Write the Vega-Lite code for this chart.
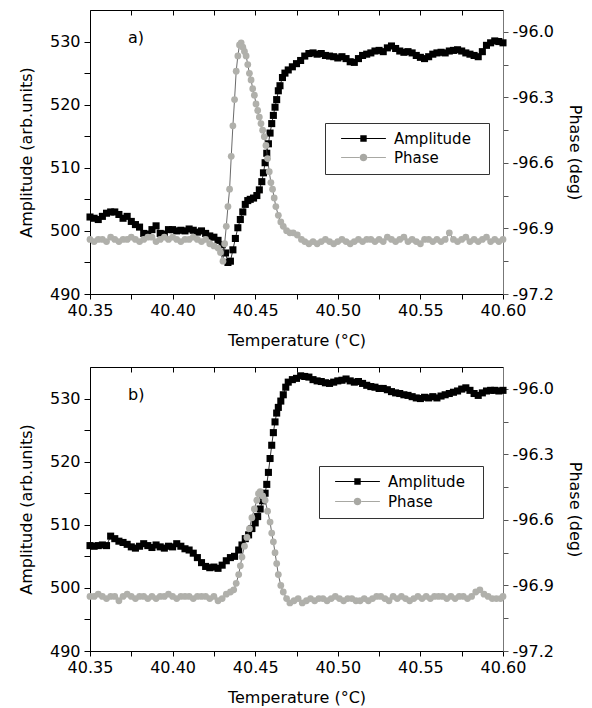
{
  "$schema": "https://vega.github.io/schema/vega-lite/v6.json",
  "padding": {"left": 17, "top": 9, "right": 5, "bottom": 5},
  "spacing": 17,
  "config": {
    "font": "DejaVu Sans",
    "view": {"stroke": "black", "strokeWidth": 1},
    "axis": {"grid": false, "domainColor": "black", "tickColor": "black", "labelColor": "black", "titleColor": "black", "labelFont": "DejaVu Sans", "titleFont": "DejaVu Sans", "labelFontSize": 16, "titleFontSize": 16, "titleFontWeight": "normal", "tickSize": 5, "domainWidth": 1, "tickWidth": 1},
    "legend": {"labelFont": "DejaVu Sans", "labelFontSize": 15, "labelColor": "black"}
  },
  "resolve": {"scale": {"color": "independent", "shape": "independent"}},
  "datasets": {
    "aA": [
      {"t":40.3500,"v":502.2},{"t":40.3525,"v":502.0},{"t":40.3550,"v":501.8},{"t":40.3575,"v":502.3},{"t":40.3600,"v":502.8},{"t":40.3625,"v":503.0},{"t":40.3650,"v":503.0},{"t":40.3675,"v":502.6},{"t":40.3700,"v":502.0},{"t":40.3725,"v":502.3},{"t":40.3750,"v":501.5},{"t":40.3775,"v":501.0},{"t":40.3800,"v":500.6},{"t":40.3825,"v":499.6},{"t":40.3850,"v":499.5},{"t":40.3875,"v":500.2},{"t":40.3900,"v":500.8},{"t":40.3925,"v":499.6},{"t":40.3950,"v":499.5},{"t":40.3975,"v":500.2},{"t":40.4000,"v":500.2},{"t":40.4025,"v":500.0},{"t":40.4050,"v":500.1},{"t":40.4075,"v":500.0},{"t":40.4100,"v":500.3},{"t":40.4125,"v":500.1},{"t":40.4150,"v":499.8},{"t":40.4175,"v":500.0},{"t":40.4200,"v":499.6},{"t":40.4225,"v":499.2},{"t":40.4250,"v":499.0},{"t":40.4275,"v":498.5},{"t":40.4300,"v":497.8},{"t":40.4320,"v":496.5},{"t":40.4335,"v":495.0},{"t":40.4350,"v":495.2},{"t":40.4365,"v":497.0},{"t":40.4380,"v":498.8},{"t":40.4395,"v":500.5},{"t":40.4410,"v":501.8},{"t":40.4425,"v":503.0},{"t":40.4440,"v":504.2},{"t":40.4455,"v":504.8},{"t":40.4470,"v":505.0},{"t":40.4490,"v":505.2},{"t":40.4510,"v":505.6},{"t":40.4525,"v":506.5},{"t":40.4540,"v":507.8},{"t":40.4550,"v":509.2},{"t":40.4560,"v":510.8},{"t":40.4570,"v":512.3},{"t":40.4580,"v":513.8},{"t":40.4590,"v":515.5},{"t":40.4600,"v":517.0},{"t":40.4610,"v":518.3},{"t":40.4620,"v":519.6},{"t":40.4630,"v":520.8},{"t":40.4640,"v":522.2},{"t":40.4650,"v":523.0},{"t":40.4665,"v":524.3},{"t":40.4680,"v":525.0},{"t":40.4700,"v":525.5},{"t":40.4725,"v":526.0},{"t":40.4750,"v":526.5},{"t":40.4775,"v":527.0},{"t":40.4800,"v":527.7},{"t":40.4825,"v":528.1},{"t":40.4850,"v":528.2},{"t":40.4875,"v":528.0},{"t":40.4900,"v":528.1},{"t":40.4925,"v":527.8},{"t":40.4950,"v":527.7},{"t":40.4975,"v":527.6},{"t":40.5000,"v":527.4},{"t":40.5025,"v":527.6},{"t":40.5050,"v":527.3},{"t":40.5075,"v":526.8},{"t":40.5100,"v":526.7},{"t":40.5125,"v":527.3},{"t":40.5150,"v":527.8},{"t":40.5175,"v":528.0},{"t":40.5200,"v":528.2},{"t":40.5225,"v":528.5},{"t":40.5250,"v":528.6},{"t":40.5275,"v":528.4},{"t":40.5300,"v":529.0},{"t":40.5325,"v":529.3},{"t":40.5350,"v":528.9},{"t":40.5375,"v":528.5},{"t":40.5400,"v":528.3},{"t":40.5425,"v":528.4},{"t":40.5450,"v":528.2},{"t":40.5475,"v":527.8},{"t":40.5500,"v":527.5},{"t":40.5525,"v":527.3},{"t":40.5550,"v":527.6},{"t":40.5575,"v":528.0},{"t":40.5600,"v":528.2},{"t":40.5625,"v":528.3},{"t":40.5650,"v":528.2},{"t":40.5675,"v":528.5},{"t":40.5700,"v":528.6},{"t":40.5725,"v":528.7},{"t":40.5750,"v":528.5},{"t":40.5775,"v":528.2},{"t":40.5800,"v":528.0},{"t":40.5825,"v":527.8},{"t":40.5850,"v":527.6},{"t":40.5875,"v":528.4},{"t":40.5900,"v":529.4},{"t":40.5925,"v":529.8},{"t":40.5950,"v":530.1},{"t":40.5975,"v":530.0},{"t":40.6000,"v":529.8}
    ],
    "aP": [
      {"t":40.3500,"v":-96.95},{"t":40.3525,"v":-96.96},{"t":40.3550,"v":-96.95},{"t":40.3575,"v":-96.95},{"t":40.3600,"v":-96.96},{"t":40.3625,"v":-96.94},{"t":40.3650,"v":-96.95},{"t":40.3675,"v":-96.96},{"t":40.3700,"v":-96.95},{"t":40.3725,"v":-96.95},{"t":40.3750,"v":-96.94},{"t":40.3775,"v":-96.95},{"t":40.3800,"v":-96.96},{"t":40.3825,"v":-96.95},{"t":40.3850,"v":-96.94},{"t":40.3875,"v":-96.94},{"t":40.3900,"v":-96.96},{"t":40.3925,"v":-96.95},{"t":40.3950,"v":-96.94},{"t":40.3975,"v":-96.95},{"t":40.4000,"v":-96.94},{"t":40.4025,"v":-96.95},{"t":40.4050,"v":-96.96},{"t":40.4075,"v":-96.95},{"t":40.4100,"v":-96.95},{"t":40.4125,"v":-96.94},{"t":40.4150,"v":-96.95},{"t":40.4175,"v":-96.96},{"t":40.4200,"v":-96.95},{"t":40.4225,"v":-96.97},{"t":40.4250,"v":-96.98},{"t":40.4275,"v":-96.99},{"t":40.4290,"v":-97.01},{"t":40.4305,"v":-97.05},{"t":40.4315,"v":-96.97},{"t":40.4325,"v":-96.89},{"t":40.4335,"v":-96.80},{"t":40.4345,"v":-96.72},{"t":40.4355,"v":-96.57},{"t":40.4365,"v":-96.43},{"t":40.4375,"v":-96.31},{"t":40.4385,"v":-96.18},{"t":40.4395,"v":-96.11},{"t":40.4405,"v":-96.06},{"t":40.4415,"v":-96.05},{"t":40.4425,"v":-96.07},{"t":40.4435,"v":-96.09},{"t":40.4445,"v":-96.11},{"t":40.4455,"v":-96.15},{"t":40.4465,"v":-96.19},{"t":40.4475,"v":-96.22},{"t":40.4485,"v":-96.26},{"t":40.4495,"v":-96.29},{"t":40.4505,"v":-96.33},{"t":40.4515,"v":-96.36},{"t":40.4525,"v":-96.39},{"t":40.4535,"v":-96.42},{"t":40.4545,"v":-96.45},{"t":40.4555,"v":-96.48},{"t":40.4565,"v":-96.52},{"t":40.4575,"v":-96.58},{"t":40.4585,"v":-96.64},{"t":40.4595,"v":-96.69},{"t":40.4605,"v":-96.72},{"t":40.4615,"v":-96.76},{"t":40.4625,"v":-96.80},{"t":40.4640,"v":-96.84},{"t":40.4655,"v":-96.87},{"t":40.4670,"v":-96.89},{"t":40.4690,"v":-96.91},{"t":40.4710,"v":-96.92},{"t":40.4730,"v":-96.92},{"t":40.4755,"v":-96.93},{"t":40.4780,"v":-96.95},{"t":40.4800,"v":-96.96},{"t":40.4825,"v":-96.97},{"t":40.4850,"v":-96.96},{"t":40.4875,"v":-96.97},{"t":40.4900,"v":-96.96},{"t":40.4925,"v":-96.95},{"t":40.4950,"v":-96.96},{"t":40.4975,"v":-96.97},{"t":40.5000,"v":-96.96},{"t":40.5025,"v":-96.95},{"t":40.5050,"v":-96.96},{"t":40.5075,"v":-96.97},{"t":40.5100,"v":-96.96},{"t":40.5125,"v":-96.95},{"t":40.5150,"v":-96.96},{"t":40.5175,"v":-96.95},{"t":40.5200,"v":-96.95},{"t":40.5225,"v":-96.96},{"t":40.5250,"v":-96.95},{"t":40.5275,"v":-96.96},{"t":40.5300,"v":-96.94},{"t":40.5325,"v":-96.95},{"t":40.5350,"v":-96.96},{"t":40.5375,"v":-96.95},{"t":40.5400,"v":-96.94},{"t":40.5425,"v":-96.96},{"t":40.5450,"v":-96.95},{"t":40.5475,"v":-96.96},{"t":40.5500,"v":-96.97},{"t":40.5525,"v":-96.95},{"t":40.5550,"v":-96.95},{"t":40.5575,"v":-96.96},{"t":40.5600,"v":-96.95},{"t":40.5625,"v":-96.96},{"t":40.5650,"v":-96.95},{"t":40.5675,"v":-96.92},{"t":40.5700,"v":-96.95},{"t":40.5725,"v":-96.96},{"t":40.5750,"v":-96.95},{"t":40.5775,"v":-96.94},{"t":40.5800,"v":-96.96},{"t":40.5825,"v":-96.95},{"t":40.5850,"v":-96.96},{"t":40.5875,"v":-96.95},{"t":40.5900,"v":-96.94},{"t":40.5925,"v":-96.96},{"t":40.5950,"v":-96.95},{"t":40.5975,"v":-96.96},{"t":40.6000,"v":-96.95}
    ],
    "bA": [
      {"t":40.3500,"v":506.7},{"t":40.3525,"v":506.6},{"t":40.3550,"v":506.7},{"t":40.3575,"v":506.8},{"t":40.3600,"v":506.7},{"t":40.3625,"v":508.2},{"t":40.3650,"v":507.8},{"t":40.3675,"v":507.4},{"t":40.3700,"v":507.2},{"t":40.3725,"v":506.9},{"t":40.3750,"v":506.5},{"t":40.3775,"v":506.3},{"t":40.3800,"v":506.6},{"t":40.3825,"v":507.0},{"t":40.3850,"v":506.7},{"t":40.3875,"v":506.4},{"t":40.3900,"v":506.8},{"t":40.3925,"v":506.5},{"t":40.3950,"v":506.3},{"t":40.3975,"v":506.6},{"t":40.4000,"v":506.5},{"t":40.4025,"v":507.0},{"t":40.4050,"v":506.6},{"t":40.4075,"v":506.2},{"t":40.4100,"v":506.0},{"t":40.4125,"v":505.5},{"t":40.4150,"v":504.8},{"t":40.4175,"v":504.0},{"t":40.4200,"v":503.4},{"t":40.4225,"v":503.2},{"t":40.4250,"v":503.3},{"t":40.4275,"v":503.1},{"t":40.4300,"v":503.6},{"t":40.4325,"v":504.3},{"t":40.4350,"v":504.8},{"t":40.4375,"v":505.0},{"t":40.4400,"v":506.0},{"t":40.4420,"v":506.8},{"t":40.4440,"v":507.8},{"t":40.4460,"v":508.4},{"t":40.4480,"v":509.4},{"t":40.4500,"v":510.3},{"t":40.4515,"v":511.3},{"t":40.4530,"v":512.5},{"t":40.4545,"v":513.8},{"t":40.4560,"v":515.0},{"t":40.4570,"v":516.4},{"t":40.4580,"v":518.3},{"t":40.4590,"v":520.5},{"t":40.4600,"v":522.6},{"t":40.4610,"v":524.6},{"t":40.4620,"v":526.3},{"t":40.4630,"v":527.7},{"t":40.4640,"v":528.6},{"t":40.4655,"v":529.6},{"t":40.4670,"v":530.6},{"t":40.4685,"v":531.8},{"t":40.4700,"v":532.6},{"t":40.4725,"v":533.0},{"t":40.4750,"v":533.2},{"t":40.4775,"v":533.6},{"t":40.4800,"v":533.5},{"t":40.4825,"v":533.4},{"t":40.4850,"v":533.0},{"t":40.4875,"v":532.8},{"t":40.4900,"v":532.7},{"t":40.4925,"v":532.5},{"t":40.4950,"v":532.4},{"t":40.4975,"v":532.6},{"t":40.5000,"v":532.8},{"t":40.5025,"v":532.9},{"t":40.5050,"v":533.1},{"t":40.5075,"v":532.8},{"t":40.5100,"v":532.6},{"t":40.5125,"v":532.7},{"t":40.5150,"v":532.4},{"t":40.5175,"v":532.1},{"t":40.5200,"v":531.9},{"t":40.5225,"v":531.8},{"t":40.5250,"v":531.6},{"t":40.5275,"v":531.6},{"t":40.5300,"v":531.4},{"t":40.5325,"v":531.1},{"t":40.5350,"v":530.9},{"t":40.5375,"v":530.8},{"t":40.5400,"v":530.6},{"t":40.5425,"v":530.5},{"t":40.5450,"v":530.3},{"t":40.5475,"v":530.1},{"t":40.5500,"v":530.0},{"t":40.5525,"v":530.2},{"t":40.5550,"v":530.1},{"t":40.5575,"v":530.3},{"t":40.5600,"v":530.1},{"t":40.5625,"v":530.4},{"t":40.5650,"v":530.6},{"t":40.5675,"v":530.8},{"t":40.5700,"v":531.0},{"t":40.5725,"v":531.2},{"t":40.5750,"v":531.5},{"t":40.5775,"v":531.7},{"t":40.5800,"v":531.3},{"t":40.5825,"v":530.8},{"t":40.5850,"v":530.5},{"t":40.5875,"v":530.9},{"t":40.5900,"v":531.2},{"t":40.5925,"v":531.3},{"t":40.5950,"v":531.3},{"t":40.5975,"v":531.2},{"t":40.6000,"v":531.3}
    ],
    "bP": [
      {"t":40.3500,"v":-96.95},{"t":40.3525,"v":-96.95},{"t":40.3550,"v":-96.94},{"t":40.3575,"v":-96.95},{"t":40.3600,"v":-96.96},{"t":40.3625,"v":-96.95},{"t":40.3650,"v":-96.95},{"t":40.3675,"v":-96.97},{"t":40.3700,"v":-96.95},{"t":40.3725,"v":-96.94},{"t":40.3750,"v":-96.95},{"t":40.3775,"v":-96.96},{"t":40.3800,"v":-96.95},{"t":40.3825,"v":-96.95},{"t":40.3850,"v":-96.96},{"t":40.3875,"v":-96.95},{"t":40.3900,"v":-96.96},{"t":40.3925,"v":-96.95},{"t":40.3950,"v":-96.95},{"t":40.3975,"v":-96.94},{"t":40.4000,"v":-96.95},{"t":40.4025,"v":-96.96},{"t":40.4050,"v":-96.95},{"t":40.4075,"v":-96.95},{"t":40.4100,"v":-96.95},{"t":40.4125,"v":-96.96},{"t":40.4150,"v":-96.95},{"t":40.4175,"v":-96.95},{"t":40.4200,"v":-96.95},{"t":40.4225,"v":-96.96},{"t":40.4250,"v":-96.95},{"t":40.4275,"v":-96.97},{"t":40.4300,"v":-96.96},{"t":40.4325,"v":-96.94},{"t":40.4350,"v":-96.93},{"t":40.4370,"v":-96.92},{"t":40.4385,"v":-96.89},{"t":40.4400,"v":-96.85},{"t":40.4410,"v":-96.81},{"t":40.4420,"v":-96.77},{"t":40.4435,"v":-96.72},{"t":40.4450,"v":-96.68},{"t":40.4465,"v":-96.64},{"t":40.4480,"v":-96.59},{"t":40.4495,"v":-96.55},{"t":40.4510,"v":-96.51},{"t":40.4520,"v":-96.48},{"t":40.4530,"v":-96.47},{"t":40.4545,"v":-96.49},{"t":40.4560,"v":-96.51},{"t":40.4575,"v":-96.56},{"t":40.4590,"v":-96.61},{"t":40.4600,"v":-96.66},{"t":40.4610,"v":-96.70},{"t":40.4620,"v":-96.75},{"t":40.4630,"v":-96.80},{"t":40.4640,"v":-96.85},{"t":40.4655,"v":-96.90},{"t":40.4670,"v":-96.93},{"t":40.4690,"v":-96.96},{"t":40.4710,"v":-96.98},{"t":40.4735,"v":-96.97},{"t":40.4760,"v":-96.96},{"t":40.4785,"v":-96.98},{"t":40.4810,"v":-96.97},{"t":40.4835,"v":-96.96},{"t":40.4860,"v":-96.97},{"t":40.4885,"v":-96.96},{"t":40.4910,"v":-96.96},{"t":40.4935,"v":-96.97},{"t":40.4960,"v":-96.96},{"t":40.4985,"v":-96.95},{"t":40.5010,"v":-96.96},{"t":40.5035,"v":-96.97},{"t":40.5060,"v":-96.96},{"t":40.5085,"v":-96.96},{"t":40.5110,"v":-96.97},{"t":40.5135,"v":-96.97},{"t":40.5160,"v":-96.96},{"t":40.5185,"v":-96.97},{"t":40.5210,"v":-96.96},{"t":40.5235,"v":-96.95},{"t":40.5260,"v":-96.95},{"t":40.5285,"v":-96.96},{"t":40.5310,"v":-96.97},{"t":40.5335,"v":-96.95},{"t":40.5360,"v":-96.96},{"t":40.5385,"v":-96.95},{"t":40.5410,"v":-96.96},{"t":40.5435,"v":-96.97},{"t":40.5460,"v":-96.96},{"t":40.5485,"v":-96.95},{"t":40.5510,"v":-96.96},{"t":40.5535,"v":-96.95},{"t":40.5560,"v":-96.96},{"t":40.5585,"v":-96.95},{"t":40.5610,"v":-96.95},{"t":40.5635,"v":-96.95},{"t":40.5660,"v":-96.96},{"t":40.5685,"v":-96.95},{"t":40.5710,"v":-96.96},{"t":40.5735,"v":-96.95},{"t":40.5760,"v":-96.95},{"t":40.5785,"v":-96.96},{"t":40.5810,"v":-96.95},{"t":40.5835,"v":-96.93},{"t":40.5860,"v":-96.92},{"t":40.5885,"v":-96.94},{"t":40.5910,"v":-96.95},{"t":40.5935,"v":-96.96},{"t":40.5960,"v":-96.96},{"t":40.5985,"v":-96.96},{"t":40.6000,"v":-96.95}
    ],
    "series": [{"s": "Amplitude"}, {"s": "Phase"}]
  },
  "vconcat": [
    {
      "width": 413, "height": 284,
      "resolve": {"scale": {"y": "independent"}, "axis": {"x": "independent"}},
      "layer": [
        {
          "data": {"name": "aA"},
          "encoding": {
            "x": {"field": "t", "type": "quantitative", "scale": {"domain": [40.35, 40.6], "nice": false, "zero": false},
              "axis": {"orient": "bottom", "title": "Temperature (°C)", "values": [40.35,40.375,40.4,40.425,40.45,40.475,40.5,40.525,40.55,40.575,40.6], "labelExpr": "round(datum.value*1000) % 50 == 0 ? format(datum.value, '.2f') : ''", "labelPadding": 3, "titlePadding": 14, "labelFlush": false, "labelOverlap": false}},
            "y": {"field": "v", "type": "quantitative", "scale": {"domain": [490, 535], "nice": false, "zero": false},
              "axis": {"orient": "left", "title": "Amplitude (arb.units)", "values": [490,495,500,505,510,515,520,525,530], "labelExpr": "datum.value % 10 == 0 ? format(datum.value, 'd') : ''", "tickSize": 6, "labelPadding": 4, "titlePadding": 15}}
          },
          "layer": [
            {"mark": {"type": "line", "color": "black", "strokeWidth": 0.8}, "encoding": {}},
            {"mark": {"type": "point", "shape": "square", "filled": true, "size": 50, "opacity": 1, "color": "black"}, "encoding": {}},
            {"data": {"values": [{"t": 40.373, "v": 530.5, "label": "a)"}]},
              "mark": {"type": "text", "align": "left", "baseline": "middle", "fontSize": 16, "font": "DejaVu Sans", "color": "black"},
              "encoding": {"text": {"field": "label"}}}
          ]
        },
        {
          "data": {"name": "aP"},
          "encoding": {
            "x": {"field": "t", "type": "quantitative", "scale": {"domain": [40.35, 40.6], "nice": false, "zero": false},
              "axis": {"orient": "top", "title": null, "labels": false, "values": [40.375,40.4,40.425,40.45,40.475,40.5,40.525,40.55,40.575], "tickSize": -5, "domain": false}},
            "y": {"field": "v", "type": "quantitative", "scale": {"domain": [-97.2, -95.9], "nice": false, "zero": false},
              "axis": {"orient": "right", "title": "Phase (deg)", "values": [-97.2,-97.05,-96.9,-96.75,-96.6,-96.45,-96.3,-96.15,-96.0], "labelExpr": "abs(round(datum.value*100)) % 30 == 0 ? replace(format(datum.value, '.1f'), '\u2212', '-') : ''", "tickSize": 5, "labelPadding": 4, "titlePadding": 13, "domainColor": "#777", "tickColor": "#555"}}
          },
          "layer": [
            {"mark": {"type": "line", "color": "#444", "strokeWidth": 0.8}, "encoding": {}},
            {"mark": {"type": "point", "shape": "circle", "filled": true, "size": 46, "opacity": 1, "color": "#b0b0ab"}, "encoding": {}}
          ]
        },
        {
          "data": {"name": "series"},
          "transform": [{"filter": "false"}],
          "mark": {"type": "point", "filled": true, "opacity": 1},
          "encoding": {
            "color": {"field": "s", "type": "nominal", "scale": {"domain": ["Amplitude", "Phase"], "range": ["black", "#a8a8a3"]},
              "legend": {"title": " ", "titleOrient": "right", "titlePadding": 10, "orient": "none", "legendX": 235, "legendY": 113, "direction": "vertical", "strokeColor": "#333", "fillColor": "white", "padding": 8, "symbolSize": 64, "rowPadding": 3, "symbolOffset": 23, "labelOffset": 23, "labelFontSize": 15, "symbolOpacity": 1}},
            "shape": {"field": "s", "type": "nominal", "scale": {"domain": ["Amplitude", "Phase"], "range": ["M-5.6,-0.13H-0.8V0.13H-5.6Z M0.8,-0.13H5.6V0.13H0.8Z M-0.8,-0.8H0.8V0.8H-0.8Z", "M-5.6,-0.13H-0.9V0.13H-5.6Z M0.9,-0.13H5.6V0.13H0.9Z M-0.95,0A0.95,0.95 0 1,0 0.95,0A0.95,0.95 0 1,0 -0.95,0Z"]},
              "legend": {"title": " ", "titleOrient": "right", "titlePadding": 10, "orient": "none", "legendX": 235, "legendY": 113, "direction": "vertical", "strokeColor": "#333", "fillColor": "white", "padding": 8, "symbolSize": 64, "rowPadding": 3, "symbolOffset": 23, "labelOffset": 23, "labelFontSize": 15, "symbolOpacity": 1}}
          }
        }
      ]
    },
    {
      "width": 413, "height": 284,
      "resolve": {"scale": {"y": "independent"}, "axis": {"x": "independent"}},
      "layer": [
        {
          "data": {"name": "bA"},
          "encoding": {
            "x": {"field": "t", "type": "quantitative", "scale": {"domain": [40.35, 40.6], "nice": false, "zero": false},
              "axis": {"orient": "bottom", "title": "Temperature (°C)", "values": [40.35,40.375,40.4,40.425,40.45,40.475,40.5,40.525,40.55,40.575,40.6], "labelExpr": "round(datum.value*1000) % 50 == 0 ? format(datum.value, '.2f') : ''", "labelPadding": 3, "titlePadding": 14, "labelFlush": false, "labelOverlap": false}},
            "y": {"field": "v", "type": "quantitative", "scale": {"domain": [490, 535], "nice": false, "zero": false},
              "axis": {"orient": "left", "title": "Amplitude (arb.units)", "values": [490,495,500,505,510,515,520,525,530], "labelExpr": "datum.value % 10 == 0 ? format(datum.value, 'd') : ''", "tickSize": 6, "labelPadding": 4, "titlePadding": 15}}
          },
          "layer": [
            {"mark": {"type": "line", "color": "black", "strokeWidth": 0.8}, "encoding": {}},
            {"mark": {"type": "point", "shape": "square", "filled": true, "size": 50, "opacity": 1, "color": "black"}, "encoding": {}},
            {"data": {"values": [{"t": 40.373, "v": 530.5, "label": "b)"}]},
              "mark": {"type": "text", "align": "left", "baseline": "middle", "fontSize": 16, "font": "DejaVu Sans", "color": "black"},
              "encoding": {"text": {"field": "label"}}}
          ]
        },
        {
          "data": {"name": "bP"},
          "encoding": {
            "x": {"field": "t", "type": "quantitative", "scale": {"domain": [40.35, 40.6], "nice": false, "zero": false},
              "axis": {"orient": "top", "title": null, "labels": false, "values": [40.375,40.4,40.425,40.45,40.475,40.5,40.525,40.55,40.575], "tickSize": -5, "domain": false}},
            "y": {"field": "v", "type": "quantitative", "scale": {"domain": [-97.2, -95.9], "nice": false, "zero": false},
              "axis": {"orient": "right", "title": "Phase (deg)", "values": [-97.2,-97.05,-96.9,-96.75,-96.6,-96.45,-96.3,-96.15,-96.0], "labelExpr": "abs(round(datum.value*100)) % 30 == 0 ? replace(format(datum.value, '.1f'), '\u2212', '-') : ''", "tickSize": 5, "labelPadding": 4, "titlePadding": 13, "domainColor": "#777", "tickColor": "#555"}}
          },
          "layer": [
            {"mark": {"type": "line", "color": "#444", "strokeWidth": 0.8}, "encoding": {}},
            {"mark": {"type": "point", "shape": "circle", "filled": true, "size": 46, "opacity": 1, "color": "#b0b0ab"}, "encoding": {}}
          ]
        },
        {
          "data": {"name": "series"},
          "transform": [{"filter": "false"}],
          "mark": {"type": "point", "filled": true, "opacity": 1},
          "encoding": {
            "color": {"field": "s", "type": "nominal", "scale": {"domain": ["Amplitude", "Phase"], "range": ["black", "#a8a8a3"]},
              "legend": {"title": " ", "titleOrient": "right", "titlePadding": 10, "orient": "none", "legendX": 229, "legendY": 99, "direction": "vertical", "strokeColor": "#333", "fillColor": "white", "padding": 8, "symbolSize": 64, "rowPadding": 4, "symbolOffset": 23, "labelOffset": 23, "labelFontSize": 15, "symbolOpacity": 1}},
            "shape": {"field": "s", "type": "nominal", "scale": {"domain": ["Amplitude", "Phase"], "range": ["M-5.6,-0.13H-0.8V0.13H-5.6Z M0.8,-0.13H5.6V0.13H0.8Z M-0.8,-0.8H0.8V0.8H-0.8Z", "M-5.6,-0.13H-0.9V0.13H-5.6Z M0.9,-0.13H5.6V0.13H0.9Z M-0.95,0A0.95,0.95 0 1,0 0.95,0A0.95,0.95 0 1,0 -0.95,0Z"]},
              "legend": {"title": " ", "titleOrient": "right", "titlePadding": 10, "orient": "none", "legendX": 229, "legendY": 99, "direction": "vertical", "strokeColor": "#333", "fillColor": "white", "padding": 8, "symbolSize": 64, "rowPadding": 4, "symbolOffset": 23, "labelOffset": 23, "labelFontSize": 15, "symbolOpacity": 1}}
          }
        }
      ]
    }
  ]
}
